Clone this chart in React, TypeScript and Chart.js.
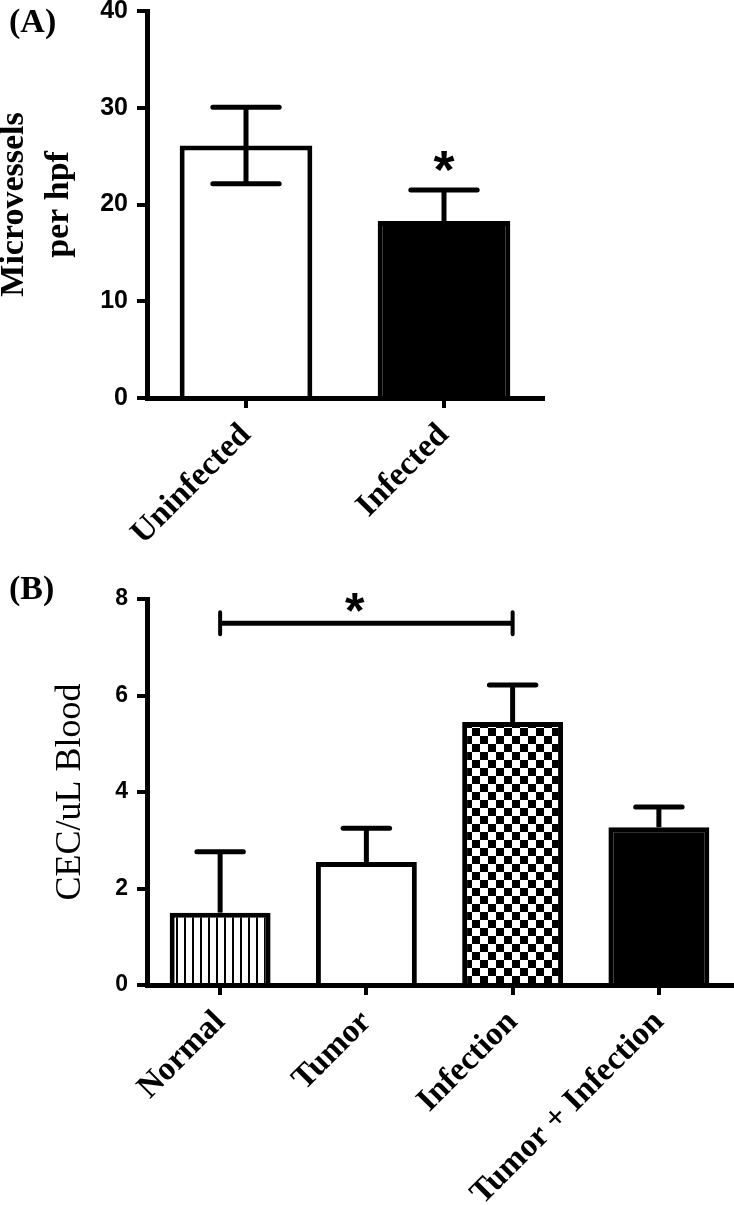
import React, { useEffect, useRef } from "react";
import { Chart, registerables } from "chart.js";

Chart.register(...registerables);

// ---------- Data: panel A ----------
const categoriesA = ["Uninfected", "Infected"];
const meansA = [26.1, 18.3];
const errorsA = [3.95, 3.2];
const yTicksA = [0, 10, 20, 30, 40];
const starsA = [{ index: 1, value: 24.9 }];

// ---------- Data: panel B ----------
const categoriesB = ["Normal", "Tumor", "Infection", "Tumor + Infection"];
const meansB = [1.5, 2.55, 5.45, 3.27];
const errorsB = [1.26, 0.7, 0.77, 0.42];
const yTicksB = [0, 2, 4, 6, 8];
const bracketB = { from: 0, to: 2, value: 7.5, starValue: 7.98 };

const BLACK = "#000000";
const WHITE = "#ffffff";

function makeStripes(): CanvasPattern | string {
  const c = document.createElement("canvas");
  c.width = 8;
  c.height = 8;
  const g = c.getContext("2d");
  if (!g) return WHITE;
  g.fillStyle = WHITE;
  g.fillRect(0, 0, 8, 8);
  g.fillStyle = BLACK;
  g.fillRect(0, 0, 2, 8);
  return g.createPattern(c, "repeat") || WHITE;
}

function makeChecker(): CanvasPattern | string {
  const c = document.createElement("canvas");
  c.width = 16;
  c.height = 16;
  const g = c.getContext("2d");
  if (!g) return WHITE;
  g.fillStyle = WHITE;
  g.fillRect(0, 0, 16, 16);
  g.fillStyle = BLACK;
  g.fillRect(0, 0, 8, 8);
  g.fillRect(8, 8, 8, 8);
  return g.createPattern(c, "repeat") || WHITE;
}

function errorBarPlugin(errors: number[], bothSides: boolean, capRatio: number) {
  return {
    id: "errorBars",
    afterDatasetsDraw(chart: any) {
      const ctx = chart.ctx;
      const meta = chart.getDatasetMeta(0);
      const ys = chart.scales.y;
      const data = chart.data.datasets[0].data as number[];
      ctx.save();
      ctx.strokeStyle = BLACK;
      ctx.lineWidth = 5;
      meta.data.forEach((bar: any, i: number) => {
        const v = data[i];
        const e = errors[i];
        const x = bar.x;
        const half = bar.width * capRatio;
        const yTop = ys.getPixelForValue(v + e);
        const yBot = bothSides ? ys.getPixelForValue(v - e) : ys.getPixelForValue(v);
        ctx.lineCap = "butt";
        ctx.beginPath();
        ctx.moveTo(x, yTop);
        ctx.lineTo(x, yBot);
        ctx.stroke();
        ctx.lineCap = "round";
        ctx.beginPath();
        ctx.moveTo(x - half, yTop);
        ctx.lineTo(x + half, yTop);
        if (bothSides) {
          ctx.moveTo(x - half, yBot);
          ctx.lineTo(x + half, yBot);
        }
        ctx.stroke();
      });
      ctx.restore();
    },
  };
}

function drawStar(ctx: CanvasRenderingContext2D, x: number, yCenter: number, size: number) {
  ctx.save();
  ctx.fillStyle = BLACK;
  ctx.font = `bold ${size}px "Liberation Sans", Arial, sans-serif`;
  ctx.textAlign = "center";
  ctx.textBaseline = "alphabetic";
  ctx.fillText("*", x, yCenter + size * 0.57);
  ctx.restore();
}

const starPluginA = {
  id: "starsA",
  afterDatasetsDraw(chart: any) {
    const meta = chart.getDatasetMeta(0);
    const ys = chart.scales.y;
    starsA.forEach((s) => {
      const bar = meta.data[s.index];
      drawStar(chart.ctx, bar.x, ys.getPixelForValue(s.value), 54);
    });
  },
};

const bracketPluginB = {
  id: "bracketB",
  afterDatasetsDraw(chart: any) {
    const ctx = chart.ctx;
    const xs = chart.scales.x;
    const ys = chart.scales.y;
    const x0 = xs.getPixelForValue(bracketB.from);
    const x1 = xs.getPixelForValue(bracketB.to);
    const y = ys.getPixelForValue(bracketB.value);
    ctx.save();
    ctx.strokeStyle = BLACK;
    ctx.lineWidth = 5;
    ctx.lineCap = "butt";
    ctx.beginPath();
    ctx.moveTo(x0, y);
    ctx.lineTo(x1, y);
    ctx.stroke();
    ctx.lineCap = "round";
    ctx.lineWidth = 4;
    ctx.beginPath();
    ctx.moveTo(x0, y - 11);
    ctx.lineTo(x0, y + 11);
    ctx.moveTo(x1, y - 11);
    ctx.lineTo(x1, y + 11);
    ctx.stroke();
    ctx.restore();
    drawStar(ctx, x0 + (x1 - x0) * 0.46, ys.getPixelForValue(bracketB.starValue), 50);
  },
};

function axisCommon() {
  return {
    grid: {
      display: true,
      drawOnChartArea: false,
      drawTicks: true,
      tickLength: 10,
      lineWidth: 4,
      color: BLACK,
      offset: false,
    },
    border: { display: true, width: 5, color: BLACK },
  };
}

function buildConfig(opts: {
  labels: string[];
  values: number[];
  fills: any[];
  yMax: number;
  yTicks: number[];
  barPct: number;
  padding: any;
  yWidth: number;
  xHeight: number;
  tickSize: number;
  title: any;
  plugins: any[];
}) {
  return {
    type: "bar",
    data: {
      labels: opts.labels,
      datasets: [
        {
          data: opts.values,
          backgroundColor: opts.fills,
          borderColor: BLACK,
          borderWidth: 5,
          borderSkipped: "start",
          barPercentage: opts.barPct,
          categoryPercentage: 1,
        },
      ],
    },
    options: {
      responsive: false,
      animation: false,
      devicePixelRatio: 1,
      layout: { padding: opts.padding },
      plugins: { legend: { display: false }, tooltip: { enabled: false }, title: { display: false } },
      scales: {
        x: {
          type: "category",
          offset: true,
          ...axisCommon(),
          ticks: {
            color: BLACK,
            font: { family: '"Liberation Serif", "Times New Roman", serif', weight: "bold", size: 33 },
            minRotation: 45,
            maxRotation: 45,
            autoSkip: false,
            padding: 8,
          },
          afterFit: (s: any) => {
            s.height = opts.xHeight;
            s.paddingLeft = 0;
            s.paddingRight = 0;
          },
        },
        y: {
          min: 0,
          max: opts.yMax,
          ...axisCommon(),
          afterBuildTicks: (s: any) => {
            s.ticks = opts.yTicks.map((v) => ({ value: v }));
          },
          ticks: {
            color: BLACK,
            font: { family: '"Liberation Sans", Arial, sans-serif', weight: "bold", size: opts.tickSize },
            padding: 9,
          },
          title: opts.title,
          afterFit: (s: any) => {
            s.width = opts.yWidth;
            s.paddingTop = 0;
            s.paddingBottom = 0;
          },
        },
      },
    },
    plugins: opts.plugins,
  } as any;
}

function PanelCanvas({ width, height, make }: { width: number; height: number; make: (c: HTMLCanvasElement) => Chart }) {
  const ref = useRef<HTMLCanvasElement | null>(null);
  useEffect(() => {
    if (!ref.current) return;
    const chart = make(ref.current);
    return () => chart.destroy();
  }, []);
  return <canvas ref={ref} width={width} height={height} style={{ display: "block", width, height }} />;
}

export default function App() {
  const makeA = (c: HTMLCanvasElement) =>
    new Chart(
      c,
      buildConfig({
        labels: categoriesA,
        values: meansA,
        fills: [WHITE, BLACK],
        yMax: 40,
        yTicks: yTicksA,
        barPct: 0.67,
        padding: { top: 11, right: 191, left: 0, bottom: 0 },
        yWidth: 147,
        xHeight: 162,
        tickSize: 25,
        title: {
          display: true,
          text: ["Microvessels", "per hpf"],
          color: BLACK,
          font: { family: '"Liberation Serif", "Times New Roman", serif', weight: "bold", size: 34, lineHeight: 1.32 },
          padding: { top: -8, bottom: 0 },
        },
        plugins: [errorBarPlugin(errorsA, true, 0.25), starPluginA],
      })
    );

  const makeB = (c: HTMLCanvasElement) =>
    new Chart(
      c,
      buildConfig({
        labels: categoriesB,
        values: meansB,
        fills: [makeStripes(), WHITE, makeChecker(), BLACK],
        yMax: 8,
        yTicks: yTicksB,
        barPct: 0.69,
        padding: { top: 39, right: 2, left: 0, bottom: 0 },
        yWidth: 147,
        xHeight: 220,
        tickSize: 23,
        title: {
          display: true,
          text: "CEC/uL Blood",
          color: BLACK,
          font: { family: '"Liberation Serif", "Times New Roman", serif', weight: "normal", size: 36, lineHeight: 1.2 },
          padding: { top: 49, bottom: 0 },
        },
        plugins: [errorBarPlugin(errorsB, false, 0.23), bracketPluginB],
      })
    );

  const labelStyle: React.CSSProperties = {
    position: "absolute",
    left: 9,
    fontFamily: '"Liberation Serif", "Times New Roman", serif',
    fontWeight: "bold",
    fontSize: 34,
    lineHeight: "34px",
    color: BLACK,
    margin: 0,
  };

  return (
    <div style={{ position: "absolute", left: 0, top: 0, width: 734, height: 1205, background: WHITE, overflow: "hidden" }}>
      <div style={{ position: "absolute", left: 0, top: 0 }}>
        <PanelCanvas width={734} height={560} make={makeA} />
      </div>
      <div style={{ position: "absolute", left: 0, top: 560 }}>
        <PanelCanvas width={734} height={645} make={makeB} />
      </div>
      <div style={{ ...labelStyle, top: 4 }}>(A)</div>
      <div style={{ ...labelStyle, top: 571 }}>(B)</div>
    </div>
  );
}
